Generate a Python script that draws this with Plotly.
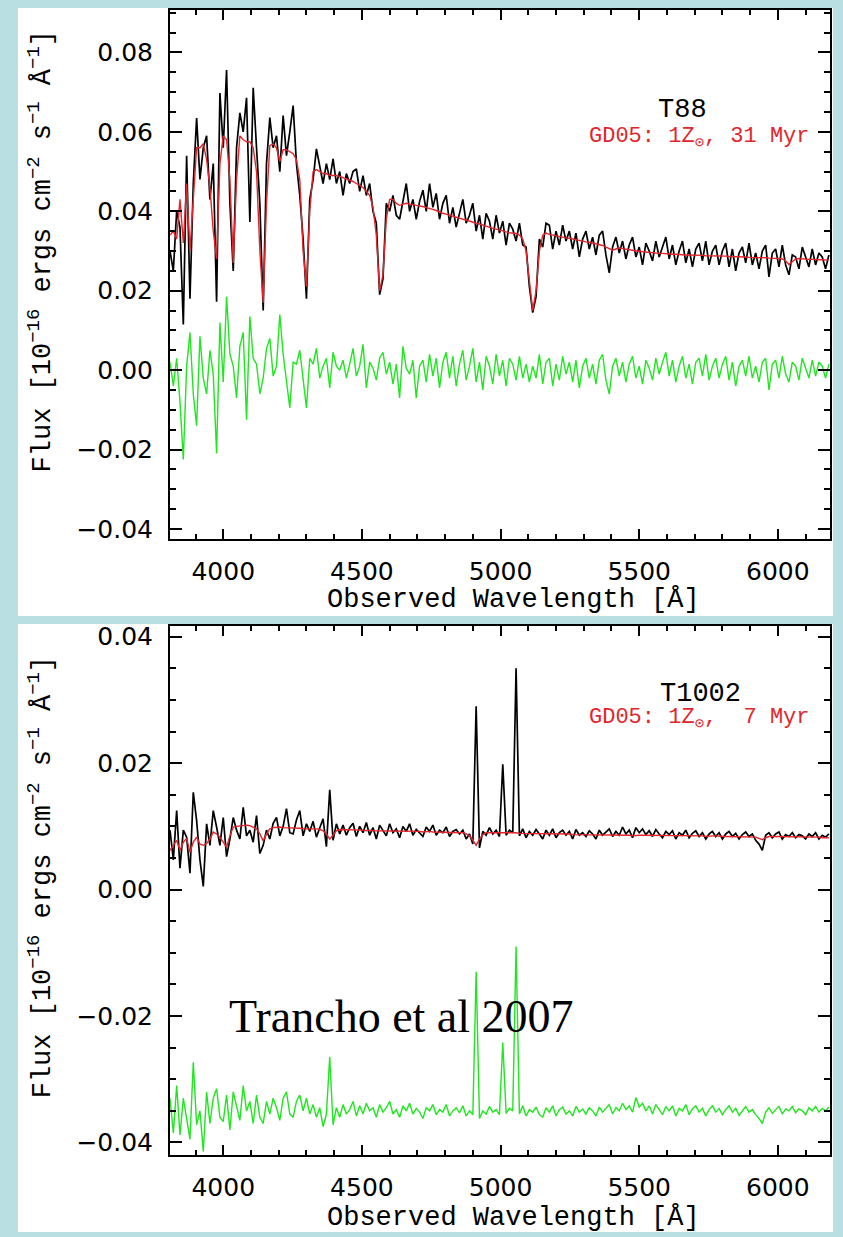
import numpy as np
import plotly.graph_objects as go

W, H = 843, 1237

# ---------------- data (flux values in units of 1e-4 x 1e-16 erg/cm2/s/A) ----------------
LAMBDA_START = 3808   # Angstrom, first sample
LAMBDA_STEP = 12      # Angstrom between samples

T88_FLUX = [
    300, 250, 400, 360, 115, 540, 180, 470, 635, 480,
    560, 590, 430, 520, 172, 698, 560, 756, 420, 250,
    560, 648, 600, 686, 373, 711, 560, 420, 150, 520,
    636, 560, 590, 500, 641, 540, 600, 666, 520, 440,
    330, 180, 430, 480, 557, 510, 470, 520, 480, 532,
    470, 500, 440, 495, 470, 500, 507, 450, 490, 440,
    470, 400, 370, 190, 230, 420, 400, 440, 390, 380,
    430, 470, 400, 430, 380, 425, 453, 400, 470, 410,
    445, 380, 420, 440, 370, 410, 360, 395, 430, 370,
    390, 420, 350, 390, 330, 395, 375, 330, 390, 345,
    375, 315, 370, 355, 325, 370, 315, 310, 210, 145,
    185, 330, 310, 370, 365, 305, 350, 315, 365, 325,
    350, 305, 345, 285, 330, 350, 305, 335, 290, 340,
    350, 290, 245, 310, 335, 295, 325, 280, 315, 335,
    285, 310, 265, 320, 300, 275, 325, 285, 310, 335,
    280, 315, 265, 300, 325, 270, 305, 260, 305, 320,
    275, 325, 265, 300, 315, 265, 300, 320, 260, 305,
    250, 295, 310, 270, 320, 265, 295, 255, 300, 315,
    235, 295, 305, 260, 315, 265, 240, 290, 285, 255,
    310, 285, 260, 305, 265, 295, 285, 255, 290,
]

T88_MODEL = [
    340, 350, 330, 430, 320, 470, 300, 420, 560, 560,
    570, 530, 460, 350, 280, 520, 590, 580, 480, 270,
    480, 590, 580, 575, 575, 560, 500, 300, 170, 420,
    565, 570, 560, 525, 555, 555, 550, 545, 530, 480,
    300, 210, 400, 500, 505, 500, 495, 495, 490, 490,
    490, 488, 485, 482, 478, 475, 470, 465, 460, 450,
    440, 410, 340, 200, 240, 380, 430, 430, 420, 415,
    418, 420, 418, 416, 415, 414, 412, 410, 408, 405,
    402, 398, 395, 393, 390, 388, 385, 382, 380, 378,
    375, 372, 370, 368, 365, 362, 360, 357, 355, 352,
    350, 348, 346, 345, 344, 340, 330, 300, 230, 150,
    200, 300, 340, 345, 342, 340, 338, 336, 334, 333,
    332, 330, 328, 326, 325, 323, 322, 320, 318, 316,
    314, 310, 305, 302, 305, 308, 306, 305, 303, 302,
    300, 300, 298, 297, 296, 295, 295, 294, 294, 293,
    293, 292, 292, 291, 291, 290, 290, 290, 289, 289,
    289, 288, 288, 288, 288, 287, 287, 287, 286, 286,
    286, 285, 285, 285, 284, 284, 284, 283, 283, 283,
    282, 282, 282, 281, 280, 275, 266, 272, 280, 281,
    280, 280, 279, 279, 278, 278, 278, 277, 277,
]

T88_RESID = [
    20, -40, 30, -80, -225, 10, 95, -60, -140, 85,
    -20, -60, 50, -10, -210, 120, -30, 185, 40, 10,
    -70, 60, 95, -125, 135, 30, 15, -60, -20, 55,
    80, -15, 10, 140, 40, -30, -95, 20, 15, 50,
    -20, -95, 30, 15, 55, -20, 10, 30, -45, 45,
    10, 0, 25, -20, 15, 55, -15, 10, 65, -45,
    20, 5, -25, 30, 45, -10, 20, -35, 15, -70,
    60, 5, -10, 25, -70, 10, 25, -30, 40, -15,
    30, -45, 20, 45, -20, 35, -40, 15, 50, -25,
    10, 55, -30, 20, -50, 35, 10, -35, 40, -15,
    25, -40, 30, 15, -25, 35, -20, 15, -30, 10,
    -20, 40, -35, 20, 30, -40, 15, -25, 35, -10,
    20, -30, 25, -45, 10, 30, -20, 15, -35, 25,
    40, -25, -60, 10, 30, -15, 20, -30, 15, 35,
    -20, 10, -35, 25, 5, -25, 30, -10, 20, 45,
    -15, 25, -30, 10, 35, -20, 15, -35, 20, 30,
    -15, 40, -25, 10, 30, -20, 15, 35, -25, 20,
    -40, 10, 25, -15, 35, -20, 10, -30, 20, 30,
    -50, 15, 25, -20, 35, -10, -30, 20, 10, -25,
    30, 5, -20, 25, -15, 20, 10, -20, 15,
]

T1002_FLUX = [
    94, 47, 125, 34, 94, 83, 26, 154, 109, 47,
    5, 104, 70, 125, 99, 70, 114, 52, 80, 114,
    94, 80, 130, 85, 94, 75, 117, 57, 70, 94,
    80, 105, 114, 85, 100, 128, 90, 88, 110, 125,
    85, 104, 92, 108, 83, 98, 112, 68, 158, 78,
    104, 88, 102, 86, 98, 105, 84, 100, 90, 106,
    86, 98, 80, 102, 93, 85, 104, 90, 96, 82,
    100, 92, 104, 86, 95, 90, 84, 99, 92, 102,
    86, 94, 90, 99, 84, 92, 95, 88, 94, 80,
    88, 72, 290, 66, 92, 86, 98, 88, 94, 84,
    198, 86, 94, 90, 350, 85, 96, 82, 92, 86,
    95, 88, 80, 94, 86, 96, 82, 90, 94, 86,
    92, 80, 95, 86, 90, 84, 93, 88, 80, 94,
    86, 91, 96, 84, 92, 86, 99, 88, 94, 82,
    98, 90, 96, 87, 93, 84, 95, 88, 82, 92,
    87, 93, 80, 90, 86, 94, 82, 89, 93, 84,
    90, 80, 88, 92, 84, 90, 80, 88, 92, 84,
    89, 80, 87, 91, 84, 88, 78, 72, 62, 86,
    90, 82, 88, 91, 80, 87, 84, 90, 82, 87,
    85, 80, 88, 84, 90, 80, 86, 83, 88,
]

T1002_MODEL = [
    62, 70, 78, 62, 75, 81, 59, 75, 83, 72,
    70, 73, 80, 91, 88, 83, 75, 67, 85, 99,
    100, 101, 102, 102, 101, 99, 96, 88, 77, 88,
    96, 98, 99, 99, 98, 98, 97, 98, 97, 97,
    96, 96, 97, 96, 96, 95, 93, 88, 80, 86,
    93, 95, 95, 95, 94, 94, 94, 94, 94, 93,
    94, 93, 93, 93, 92, 93, 93, 93, 92, 92,
    93, 92, 92, 92, 92, 92, 91, 92, 92, 91,
    91, 91, 91, 91, 90, 91, 90, 90, 90, 88,
    85, 78, 70, 80, 87, 90, 90, 91, 91, 91,
    90, 90, 90, 90, 90, 89, 89, 89, 89, 88,
    88, 89, 89, 89, 88, 88, 88, 88, 88, 88,
    88, 87, 87, 87, 87, 87, 87, 87, 87, 86,
    86, 86, 86, 86, 86, 86, 86, 86, 86, 85,
    86, 86, 86, 86, 86, 86, 86, 86, 85, 85,
    85, 85, 85, 85, 85, 85, 85, 85, 85, 85,
    85, 84, 85, 85, 85, 84, 84, 84, 84, 84,
    84, 84, 84, 84, 84, 84, 83, 81, 79, 82,
    84, 84, 84, 84, 84, 84, 83, 83, 83, 83,
    83, 83, 83, 83, 83, 83, 82, 82, 82,
]

T1002_RESID = [
    -330, -385, -310, -388, -330, -365, -395, -273, -372, -350,
    -414, -320, -370, -330, -315, -360, -367, -325, -380, -320,
    -345, -365, -310, -350, -335, -370, -325, -360, -370, -335,
    -355, -330, -345, -365, -330, -320, -355, -360, -335, -325,
    -350, -330, -355, -340, -360, -345, -375, -355, -265, -372,
    -345, -360, -340, -355, -348, -335, -358, -342, -355, -338,
    -350, -345, -360, -340, -352, -345, -335, -355, -348, -360,
    -342, -350, -338, -355, -346, -352, -362, -345, -350, -340,
    -356, -348, -352, -340, -358, -350, -345, -353, -342, -358,
    -350, -356, -130, -362, -350, -355, -343, -352, -348, -356,
    -242, -354, -346, -350, -90, -355, -342, -358, -348, -352,
    -344, -356, -360, -345, -352, -342, -358, -348, -344, -355,
    -350, -358, -343, -352, -347, -355, -345, -350, -358, -344,
    -352, -346, -340, -355, -345, -350, -338, -348, -342, -352,
    -329, -344, -338, -350, -342, -355, -340, -348, -356, -343,
    -350, -342, -358, -346, -350, -340, -356, -347, -342, -352,
    -346, -358, -348, -342, -352, -346, -356, -348, -342, -352,
    -346, -357, -349, -343, -352, -348, -356, -362, -370, -352,
    -345, -354, -348, -343, -355, -347, -350, -343, -353, -347,
    -350, -356, -345, -350, -343, -352, -346, -350, -344,
]

X_RANGE = [3808, 6188]
X_TICKS = [4000, 4500, 5000, 5500, 6000]
X_TICKTEXT = ["4000", "4500", "5000", "5500", "6000"]
TOP_Y_RANGE = [-0.0424, 0.0907]
TOP_Y_TICKS = [-0.04, -0.02, 0.0, 0.02, 0.04, 0.06, 0.08]
TOP_Y_TICKTEXT = ["\u22120.04", "\u22120.02", "0.00", "0.02", "0.04", "0.06", "0.08"]
BOT_Y_RANGE = [-0.0419, 0.0417]
BOT_Y_TICKS = [-0.04, -0.02, 0.0, 0.02, 0.04]
BOT_Y_TICKTEXT = ["\u22120.04", "\u22120.02", "0.00", "0.02", "0.04"]


def wavelengths(n):
    return LAMBDA_START + LAMBDA_STEP * np.arange(n)


def scaled(v):
    return np.asarray(v, dtype=float) * 1e-4


def px(x):
    return x / W


def py(y):
    return 1 - y / H


BLACK = "#000000"
RED = "#e3252b"
GREEN = "#1fe61f"
BLUE_BG = "#b9dfe2"

fig = go.Figure()

panels = [
    ("x", "y", T88_FLUX, T88_MODEL, T88_RESID),
    ("x2", "y2", T1002_FLUX, T1002_MODEL, T1002_RESID),
]
for xa, ya, obs, mod, res in panels:
    fig.add_trace(go.Scatter(x=wavelengths(len(obs)), y=scaled(obs), mode="lines",
                             line=dict(color=BLACK, width=1.7), xaxis=xa, yaxis=ya,
                             showlegend=False, hoverinfo="skip"))
    fig.add_trace(go.Scatter(x=wavelengths(len(mod)), y=scaled(mod), mode="lines",
                             line=dict(color=RED, width=1.4), xaxis=xa, yaxis=ya,
                             showlegend=False, hoverinfo="skip"))
    fig.add_trace(go.Scatter(x=wavelengths(len(res)), y=scaled(res), mode="lines",
                             line=dict(color=GREEN, width=1.4), xaxis=xa, yaxis=ya,
                             showlegend=False, hoverinfo="skip"))

TICK_FONT = dict(family="DejaVu Sans", size=25, color="black")
MONO = "Liberation Mono, Courier New, monospace"


def xaxis_cfg(anchor, domain):
    return dict(domain=domain, anchor=anchor, range=X_RANGE, tickmode="array",
                tickvals=X_TICKS, ticktext=X_TICKTEXT, ticks="inside", ticklen=10,
                tickwidth=1.5, tickcolor="black", showline=True, linewidth=2,
                linecolor="black", mirror="allticks", showgrid=False, zeroline=False,
                tickfont=TICK_FONT, ticklabelstandoff=9,
                minor=dict(tickmode="linear", tick0=0, dtick=100, ticks="inside",
                           ticklen=5, tickwidth=1.5, tickcolor="black", showgrid=False))


def yaxis_cfg(anchor, domain, rng, vals, text):
    return dict(domain=domain, anchor=anchor, range=rng, tickmode="array",
                tickvals=vals, ticktext=text, ticks="inside", ticklen=12,
                tickwidth=1.5, tickcolor="black", showline=True, linewidth=2,
                linecolor="black", mirror="allticks", showgrid=False, zeroline=False,
                tickfont=TICK_FONT, ticklabelstandoff=10,
                minor=dict(tickmode="linear", tick0=0, dtick=0.005, ticks="inside",
                           ticklen=6, tickwidth=1.5, tickcolor="black", showgrid=False))


XDOM = [px(170), px(830)]
TOP_DOM = [py(539), py(7)]
BOT_DOM = [py(1159), py(627)]

fig.update_layout(
    width=W, height=H,
    margin=dict(l=0, r=0, t=0, b=0),
    paper_bgcolor=BLUE_BG,
    plot_bgcolor="white",
    xaxis=xaxis_cfg("y", XDOM),
    yaxis=yaxis_cfg("x", TOP_DOM, TOP_Y_RANGE, TOP_Y_TICKS, TOP_Y_TICKTEXT),
    xaxis2=xaxis_cfg("y2", XDOM),
    yaxis2=yaxis_cfg("x2", BOT_DOM, BOT_Y_RANGE, BOT_Y_TICKS, BOT_Y_TICKTEXT),
    shapes=[
        dict(type="rect", xref="paper", yref="paper", x0=px(18), x1=px(833),
             y0=py(617), y1=py(5), fillcolor="white", line=dict(width=0), layer="below"),
        dict(type="rect", xref="paper", yref="paper", x0=px(18), x1=px(833),
             y0=py(1237), y1=py(625), fillcolor="white", line=dict(width=0), layer="below"),
    ],
)

YTITLE = ("Flux [10<sup>\u221216</sup> ergs cm<sup>\u22122</sup> "
          "s<sup>\u22121</sup> \u00c5<sup>\u22121</sup>]")
XTITLE = "Observed Wavelength [\u00c5]"

annotations = [
    # axis titles
    dict(text=XTITLE, x=px(513), y=py(601), font=dict(family=MONO, size=27, color="black")),
    dict(text=XTITLE, x=px(513), y=py(1223), font=dict(family=MONO, size=27, color="black")),
    dict(text=YTITLE, x=px(40), y=py(250), textangle=-90,
         font=dict(family=MONO, size=27, color="black")),
    dict(text=YTITLE, x=px(40), y=py(880), textangle=-90,
         font=dict(family=MONO, size=27, color="black")),
    # panel labels
    dict(text="T88", x=px(682), y=py(108), font=dict(family=MONO, size=27, color="black")),
    dict(text="GD05: 1Z<sub>\u2299</sub>, 31 Myr", x=px(812), y=py(136), xanchor="right",
         font=dict(family=MONO, size=22, color=RED)),
    dict(text="T1002", x=px(700), y=py(696), font=dict(family=MONO, size=27, color="black")),
    dict(text="GD05: 1Z<sub>\u2299</sub>,\u00a0 7 Myr", x=px(812), y=py(721), xanchor="right",
         font=dict(family=MONO, size=22, color=RED)),
    dict(text="Trancho et al 2007", x=px(401), y=py(1020),
         font=dict(family="Liberation Serif, Times New Roman, serif", size=46, color="black")),
]
for a in annotations:
    a.setdefault("xanchor", "center")
    a.setdefault("yanchor", "middle")
    a.update(xref="paper", yref="paper", showarrow=False)
fig.update_layout(annotations=annotations)

fig.write_html("out.html")
